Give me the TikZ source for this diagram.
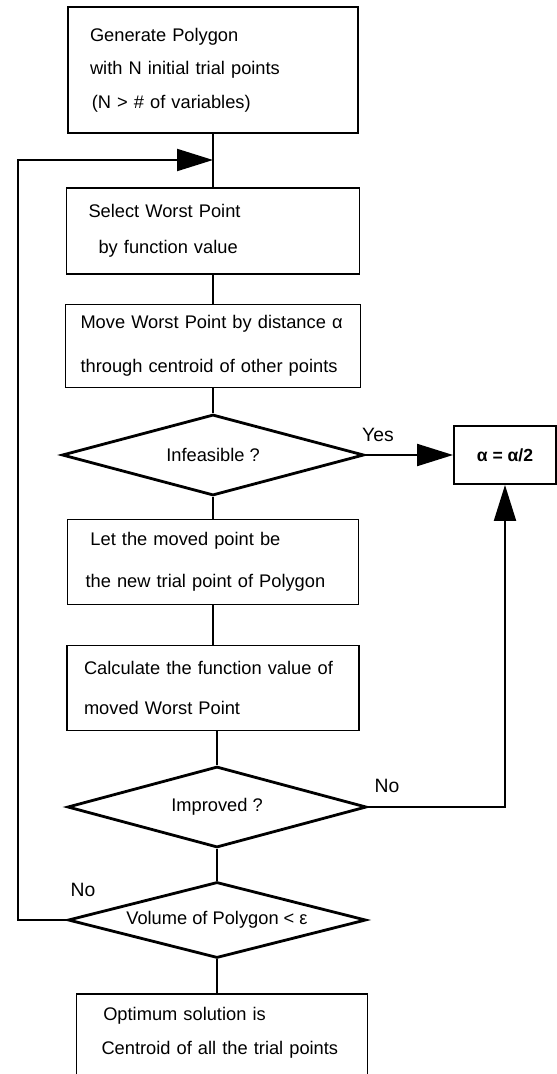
\documentclass[tikz,border=0pt]{standalone}
\usepackage{fontspec}
\setmainfont{Liberation Sans}
\usetikzlibrary{shapes.geometric,arrows.meta,positioning}

\begin{document}
\begin{tikzpicture}[x=0.02cm, y=-0.02cm, font=\fontsize{10.4}{12}\selectfont,
        box/.style={draw, line width=1.1pt, align=left, inner ysep=0pt},
        lead/.style={font=\fontsize{10.4}{#1}\selectfont},
        test/.style={draw, diamond, line width=1.6pt, aspect=3.8, inner sep=1pt},
        link/.style={line width=1pt},
        flow/.style={line width=1.2pt, -{Triangle[length=7.2mm, width=4.4mm]}},
        tag/.style={font=\fontsize{11}{13}\selectfont}]
        \useasboundingbox (0,0) rectangle (557,1074);
        \node[box, lead=19, inner xsep=0.44cm, text width=4.92cm, minimum height=2.52cm] (gen) at (213,70)
            {Generate Polygon\\with N initial trial points\\\hspace*{1pt}(N > \# of variables)};
        \node[box, lead=20.5, inner xsep=0.44cm, text width=4.98cm, minimum height=1.72cm] (sel) at (213,231)
            {Select Worst Point\\\hspace*{5.7pt}by function value};
        \node[box, lead=25, inner xsep=0.3cm, text width=5.3cm, minimum height=1.66cm] (move) at (213,346)
            {Move Worst Point by distance α\\through centroid of other points};
        \node[test, minimum width=6.04cm, minimum height=1.62cm] (infeas) at (213,455) {Infeasible ?};
        \node[box, font=\bfseries, inner xsep=0.3cm, minimum width=2.04cm, minimum height=1.16cm] (half) at (505,455)
            {α = α/2};
        \node[box, lead=24, inner xsep=0.36cm, text width=5.1cm, minimum height=1.7cm] (let) at (213,562)
            {\hspace*{2.8pt}Let the moved point be\\the new trial point of Polygon};
        \node[box, lead=22.8, inner xsep=0.34cm, text width=5.16cm, minimum height=1.7cm] (calc) at (213,688)
            {Calculate the function value of\\moved Worst Point};
        \node[test, minimum width=5.98cm, minimum height=1.62cm] (impr) at (217,807) {Improved ?};
        \node[test, minimum width=5.96cm, minimum height=1.52cm] (vol) at (217,920) {Volume of Polygon < ε};
        \node[box, lead=19.4, anchor=north, inner xsep=0.5cm, inner ysep=0.26cm, text width=4.82cm] (opt) at (222,993)
            {\hspace*{1pt}Optimum solution is\\Centroid of all the trial points\\[0.6cm]\mbox{}};
        \coordinate (join) at (213,160);
        \coordinate (rail) at (18,160);
        \node[tag] (yes) at (378,435) {Yes};
        \node[tag] (nohalf) at (387,786) {No};
        \node[tag] (noloop) at (83,890) {No};
        \draw[link] (gen) -- (sel);
        \draw[link] (sel) -- (move);
        \draw[link] (move) -- (infeas);
        \draw[link] (infeas) -- (let);
        \draw[link] (let) -- (calc);
        \draw[link] (impr.north |- calc.south) -- (impr.north);
        \draw[link] (impr) -- (vol);
        \draw[link] (vol.south) -- (vol.south |- opt.north);
        \draw[flow] (infeas) -- (half);
        \draw[flow] (impr) -| (half);
        \draw[flow] (vol) -| (rail) -- (join);
\end{tikzpicture}
\end{document}
